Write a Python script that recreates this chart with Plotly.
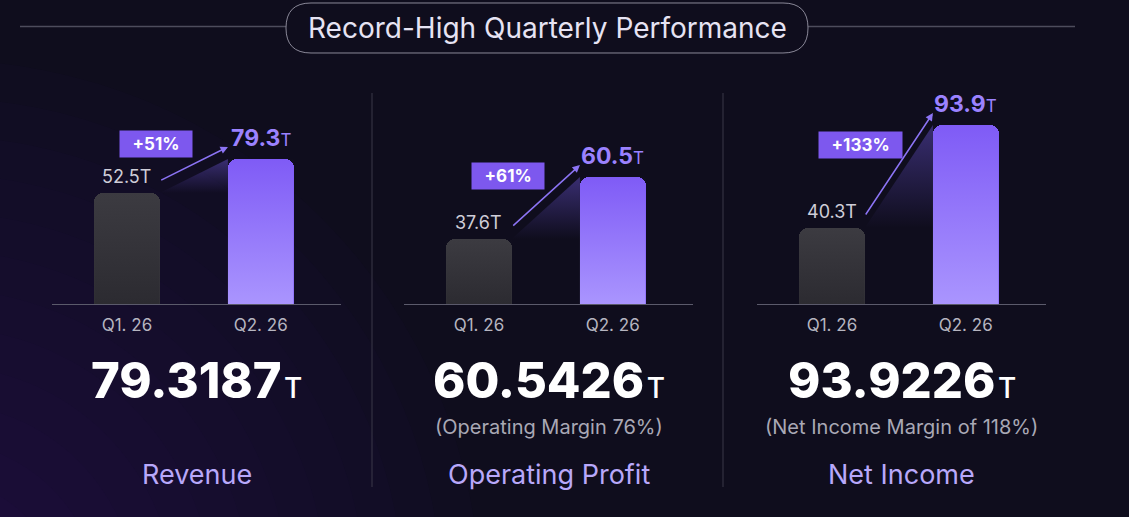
import numpy as np
import plotly.graph_objects as go

# ---------------- data ----------------
categories = ["Q1. 26", "Q2. 26"]
metrics = ["Revenue", "Operating Profit", "Net Income"]
q1_values = [52.5, 37.6, 40.3]
q2_values = [79.3, 60.5, 93.9]
growth_labels = ["+51%", "+61%", "+133%"]
headline_values = ["79.3187", "60.5426", "93.9226"]
subtitles = ["", "(Operating Margin 76%)", "(Net Income Margin of 118%)"]
title_text = "Record-High Quarterly Performance"

# ---------------- layout helpers ----------------
W, H = 1129, 517
FONT = "Inter"


def fx(p):
    return p / W


def fy(p):
    return 1 - p / H


panel_px = [(52, 341), (404, 693), (757, 1046)]
y_ranges = [[1.135, 2.262], [1.3585, 2.072], [1.334, 2.098]]
y_dom = [fy(304), fy(90)]
bar_w = 0.49
x_range = [-0.56, 1.6]

bar_colors = ["#3c3b41", "#7f5bf6"]
overlay_scales = [
    [[0, "rgba(42,41,47,0.9)"], [1, "rgba(42,41,47,0)"]],
    [[0, "rgba(172,152,255,0.95)"], [1, "rgba(172,152,255,0)"]],
]

fig = go.Figure()
annotations = []
shapes = []

# background glow (soft, many faint layers)
for r in np.linspace(540, 120, 12):
    cx, cy = -60, 600
    shapes.append(dict(type="circle", xref="paper", yref="paper", layer="below",
                       x0=fx(cx - r), x1=fx(cx + r), y0=fy(cy + r), y1=fy(cy - r),
                       fillcolor="rgba(62,50,145,0.028)", line=dict(width=0)))

xs = list(range(len(categories)))

for i in range(3):
    sfx = "" if i == 0 else str(i + 1)
    xa, ya = "x" + sfx, "y" + sfx
    v1, v2 = q1_values[i], q2_values[i]
    vals = [v1, v2]
    ybot = 10 ** y_ranges[i][0]

    fig.add_trace(go.Bar(x=xs, y=vals, width=bar_w, xaxis=xa, yaxis=ya,
                         marker=dict(color=bar_colors, cornerradius=9, line=dict(width=0)),
                         hoverinfo="skip", showlegend=False))
    # gradient overlays on bars
    for j, v in enumerate(vals):
        fig.add_trace(go.Scatter(
            x=[j - bar_w / 2, j + bar_w / 2, j + bar_w / 2, j - bar_w / 2, j - bar_w / 2],
            y=[ybot, ybot, v, v, ybot], xaxis=xa, yaxis=ya, mode="lines",
            line=dict(width=0), fill="toself",
            fillgradient=dict(type="vertical", colorscale=overlay_scales[j]),
            hoverinfo="skip", showlegend=False))
    # shaded wedge under growth arrow
    fig.add_trace(go.Scatter(
        x=[bar_w / 2, 1 - bar_w / 2, 1 - bar_w / 2, bar_w / 2],
        y=[v1, v2, v1, v1], xaxis=xa, yaxis=ya, mode="lines",
        line=dict(width=0), fill="toself",
        fillgradient=dict(type="vertical",
                          colorscale=[[0, "rgba(120,95,240,0)"], [1, "rgba(120,95,240,0.4)"]]),
        hoverinfo="skip", showlegend=False))

    fig.update_layout(**{
        "xaxis" + sfx: dict(domain=[fx(panel_px[i][0]), fx(panel_px[i][1])], range=x_range,
                            anchor=ya, tickvals=xs, ticktext=categories, showline=True,
                            linecolor="#5b5a6b", linewidth=1, showgrid=False, zeroline=False,
                            ticks="", tickfont=dict(family=FONT, size=17, color="#b6b5c0"),
                            ticklabelstandoff=6, fixedrange=True),
        "yaxis" + sfx: dict(type="log", range=y_ranges[i], domain=y_dom, anchor=xa,
                            showgrid=False, zeroline=False, showticklabels=False,
                            showline=False, ticks="", fixedrange=True),
    })

    # value labels
    annotations.append(dict(xref=xa, yref=ya, x=0, y=np.log10(v1), text=f"{v1}T",
                            showarrow=False, yanchor="bottom", yshift=4,
                            font=dict(family=FONT, size=18, color="#cfcdd8")))
    annotations.append(dict(xref=xa, yref=ya, x=1, y=np.log10(v2),
                            text=f"<b>{v2}</b><span style='font-size:17px'>T</span>",
                            showarrow=False, yanchor="bottom", yshift=5,
                            font=dict(family=FONT, size=23, color="#9b82ff")))
    # growth arrow
    annotations.append(dict(xref=xa, yref=ya, x=1 - bar_w / 2, y=np.log10(v2),
                            axref=xa, ayref=ya, ax=bar_w / 2, ay=np.log10(v1),
                            text="", showarrow=True, arrowhead=2, arrowsize=1,
                            arrowwidth=1.5, arrowcolor="#8c74f5", yshift=12, standoff=0))
    # growth bubble
    annotations.append(dict(xref=xa, yref=ya, x=0.5, y=np.log10(np.sqrt(v1 * v2)),
                            xanchor="center", xshift=-38, yshift=32,
                            text=f"&nbsp;&nbsp;<b>{growth_labels[i]}</b>&nbsp;&nbsp;",
                            showarrow=False, bgcolor="#7d58ee", borderpad=3,
                            font=dict(family=FONT, size=17, color="white")))

    cxp = fx((panel_px[i][0] + panel_px[i][1]) / 2)
    annotations.append(dict(xref="paper", yref="paper", x=cxp, y=fy(380),
                            text=f"{headline_values[i]}<span style='font-size:28px;font-weight:500'>\u200aT</span>",
                            showarrow=False, xanchor="center", yanchor="middle",
                            font=dict(family=FONT, size=49, color="#ffffff", weight=800)))
    if subtitles[i]:
        annotations.append(dict(xref="paper", yref="paper", x=cxp, y=fy(427), text=subtitles[i],
                                showarrow=False, xanchor="center", yanchor="middle",
                                font=dict(family=FONT, size=20, color="#a9a8b5")))
    annotations.append(dict(xref="paper", yref="paper", x=cxp, y=fy(474), text=metrics[i],
                            showarrow=False, xanchor="center", yanchor="middle",
                            font=dict(family=FONT, size=27, color="#b8a8fa")))

# panel dividers
for xd in [372, 723]:
    shapes.append(dict(type="line", xref="paper", yref="paper", x0=fx(xd), x1=fx(xd),
                       y0=fy(93), y1=fy(487), line=dict(color="#3a3948", width=1)))

# title pill and rules
for (a, b) in [(20, 286), (808, 1075)]:
    shapes.append(dict(type="line", xref="paper", yref="paper", x0=fx(a), x1=fx(b),
                       y0=fy(26.5), y1=fy(26.5), line=dict(color="#4d4c5c", width=1.5)))

L, R, T, B, rad = 286, 808, 3, 53, 25


def P(x, y):
    return f"{fx(x):.5f},{fy(y):.5f}"


pill = (f"M {P(L + rad, T)} L {P(R - rad, T)} Q {P(R, T)} {P(R, T + rad)} "
        f"Q {P(R, B)} {P(R - rad, B)} L {P(L + rad, B)} Q {P(L, B)} {P(L, B - rad)} "
        f"Q {P(L, T)} {P(L + rad, T)} Z")
shapes.append(dict(type="path", xref="paper", yref="paper", path=pill,
                   fillcolor="#0f0d1d", line=dict(color="#8a8898", width=1)))
annotations.append(dict(xref="paper", yref="paper", x=fx(547), y=fy(27.5), text=title_text,
                        showarrow=False, xanchor="center", yanchor="middle",
                        font=dict(family=FONT, size=28, color="#e6e3f3")))

fig.update_layout(width=W, height=H, autosize=False,
                  margin=dict(l=0, r=0, t=0, b=0, pad=0),
                  paper_bgcolor="#0f0d1d", plot_bgcolor="rgba(0,0,0,0)",
                  showlegend=False, bargap=0, annotations=annotations, shapes=shapes,
                  font=dict(family=FONT))

fig.write_html("out.html", config={"displayModeBar": False},
               post_script="document.body.style.margin='0';document.body.style.background='#0f0d1d';")
